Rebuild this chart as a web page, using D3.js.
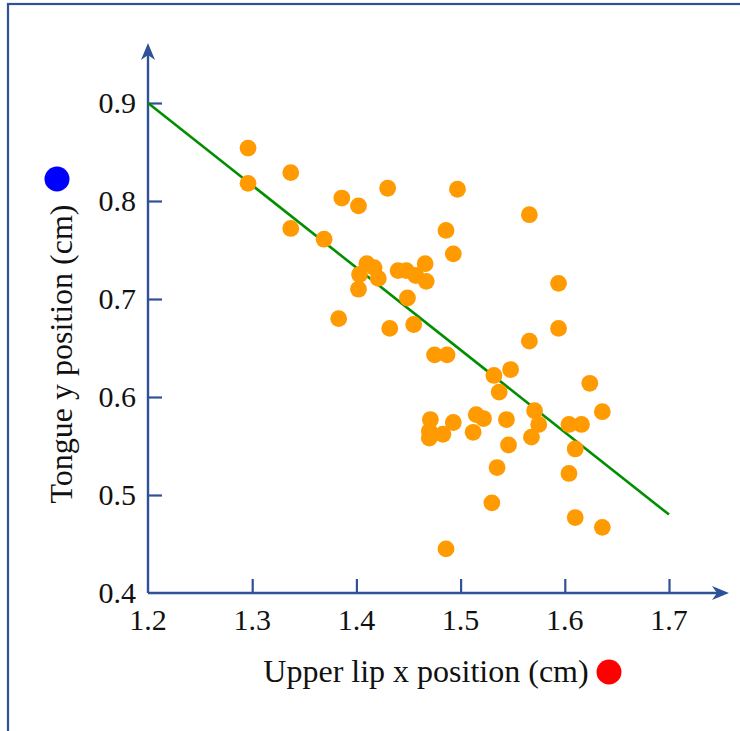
<!DOCTYPE html>
<html><head><meta charset="utf-8">
<script src="https://cdn.jsdelivr.net/npm/d3@7"></script>
<style>html,body{margin:0;padding:0;background:#fff;}svg{display:block;}</style>
</head><body>
<script>
const xValues = [1.296,1.337,1.296,1.337,1.369,1.383,1.386,1.402,1.430,1.497,1.566,1.486,1.493,1.410,1.417,1.403,1.421,1.402,1.440,1.448,1.457,1.466,1.467,1.449,1.432,1.455,1.594,1.566,1.475,1.487,1.548,1.532,1.537,1.624,1.636,1.571,1.575,1.568,1.604,1.616,1.610,1.604,1.610,1.636,1.471,1.470,1.470,1.483,1.493,1.515,1.522,1.512,1.544,1.546,1.535,1.530,1.486,1.594];
const yValues = [0.854,0.829,0.818,0.772,0.761,0.680,0.803,0.795,0.813,0.812,0.786,0.770,0.746,0.736,0.732,0.725,0.721,0.710,0.729,0.729,0.724,0.736,0.718,0.701,0.670,0.674,0.670,0.657,0.643,0.643,0.628,0.622,0.605,0.614,0.585,0.586,0.572,0.559,0.572,0.572,0.547,0.522,0.477,0.467,0.577,0.565,0.558,0.562,0.574,0.582,0.578,0.564,0.577,0.551,0.528,0.492,0.445,0.716];
const fitX = [1.2, 1.7];
const fitY = [0.9, 0.48];
const xTicks = [1.2,1.3,1.4,1.5,1.6,1.7];
const yTicks = [0.4,0.5,0.6,0.7,0.8,0.9];
const xTitle = "Upper lip x position (cm)";
const yTitle = "Tongue y position (cm)";

const W = 740, H = 731;
const axisCol = "#2f5197";
const svg = d3.select("body").append("svg").attr("width", W).attr("height", H);

// frame
svg.append("rect").attr("x", 8).attr("y", 4).attr("width", W + 20).attr("height", H + 20)
  .attr("fill", "none").attr("stroke", axisCol).attr("stroke-width", 2.2);

const x = d3.scaleLinear().domain([1.2, 1.7]).range([148, 669]);
const y = d3.scaleLinear().domain([0.4, 0.9]).range([593, 103]);
const font = "'Liberation Serif', 'Times New Roman', serif";

// axes lines
svg.append("line").attr("x1", x(1.2)).attr("y1", y(0.4)).attr("x2", 722).attr("y2", y(0.4))
  .attr("stroke", axisCol).attr("stroke-width", 2.4);
svg.append("line").attr("x1", x(1.2)).attr("y1", y(0.4)).attr("x2", x(1.2)).attr("y2", 50)
  .attr("stroke", axisCol).attr("stroke-width", 2.4);
// arrowheads
const ax = 729, ay = y(0.4);
svg.append("path").attr("d", `M${ax},${ay} L${ax-17},${ay-7} L${ax-12},${ay} L${ax-17},${ay+7} Z`).attr("fill", axisCol);
const bx = x(1.2), by = 43;
svg.append("path").attr("d", `M${bx},${by} L${bx-7},${by+17} L${bx},${by+12} L${bx+7},${by+17} Z`).attr("fill", axisCol);

// ticks
const xAxis = d3.axisTop(x).tickValues(xTicks).tickSize(14).tickFormat("");
const gx = svg.append("g").attr("transform", `translate(0,${y(0.4)})`).call(xAxis);
gx.select(".domain").remove();
gx.selectAll("line").attr("stroke", axisCol).attr("stroke-width", 2.2);
gx.selectAll(".tick").filter(d => d === 1.2).remove();
const yAxis = d3.axisRight(y).tickValues(yTicks).tickSize(14).tickFormat("");
const gy = svg.append("g").attr("transform", `translate(${x(1.2)},0)`).call(yAxis);
gy.select(".domain").remove();
gy.selectAll("line").attr("stroke", axisCol).attr("stroke-width", 2.2);
gy.selectAll(".tick").filter(d => d === 0.4).remove();

// tick labels
svg.append("g").selectAll("text").data(xTicks).join("text")
  .attr("x", d => x(d)).attr("y", 630)
  .attr("text-anchor", "middle").attr("font-family", font).attr("font-size", 30)
  .attr("fill", "#111").text(d => d3.format(".1f")(d));
svg.append("g").selectAll("text").data(yTicks).join("text")
  .attr("x", x(1.2) - 12).attr("y", d => y(d)).attr("dy", "0.34em")
  .attr("text-anchor", "end").attr("font-family", font).attr("font-size", 30)
  .attr("fill", "#111").text(d => d3.format(".1f")(d));

// fit line
svg.append("line").attr("x1", x(fitX[0])).attr("y1", y(fitY[0])).attr("x2", x(fitX[1])).attr("y2", y(fitY[1]))
  .attr("stroke", "#008f00").attr("stroke-width", 2.6);

// points
svg.append("g").selectAll("circle").data(xValues.map((v, i) => [v, yValues[i]])).join("circle")
  .attr("cx", d => x(d[0])).attr("cy", d => y(d[1])).attr("r", 8.4).attr("fill", "#ff9a00");

// axis titles
svg.append("text").attr("x", 426).attr("y", 682).attr("text-anchor", "middle")
  .attr("font-family", font).attr("font-size", 32).attr("fill", "#111").text(xTitle);
svg.append("circle").attr("cx", 609).attr("cy", 672).attr("r", 12.5).attr("fill", "#ff0000");
svg.append("text").attr("transform", "translate(72,354) rotate(-90)").attr("text-anchor", "middle")
  .attr("font-family", font).attr("font-size", 32).attr("fill", "#111").text(yTitle);
svg.append("circle").attr("cx", 57).attr("cy", 179).attr("r", 12.5).attr("fill", "#0000ff");
</script>
</body></html>
